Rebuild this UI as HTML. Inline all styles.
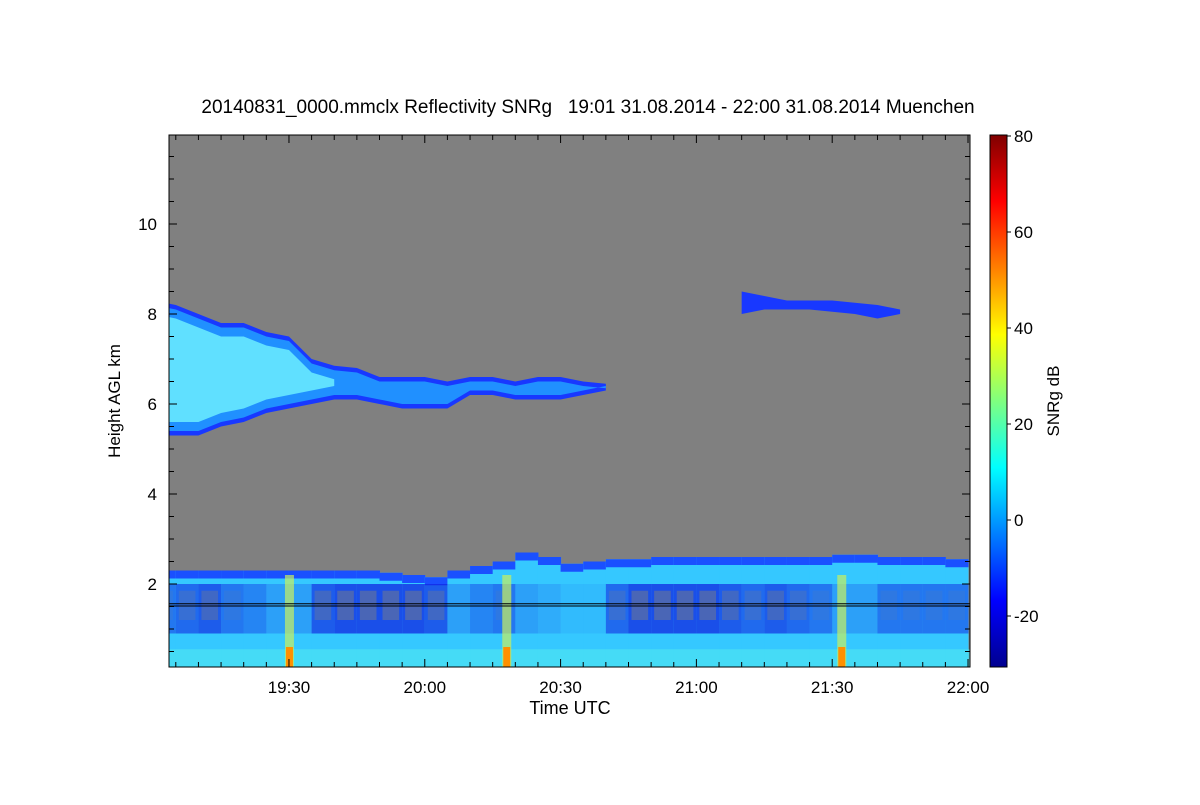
<!DOCTYPE html>
<html><head><meta charset="utf-8"><style>
body{margin:0;background:#fff;}
svg text{font-family:"Liberation Sans",sans-serif;fill:#000;}
</style></head><body>
<svg id="c" width="1200" height="800" xmlns="http://www.w3.org/2000/svg">
<defs>
<linearGradient id="jet" x1="0" y1="1" x2="0" y2="0">
<stop offset="0" stop-color="#00008f"/><stop offset="0.125" stop-color="#0000ff"/>
<stop offset="0.375" stop-color="#00ffff"/><stop offset="0.625" stop-color="#ffff00"/>
<stop offset="0.875" stop-color="#ff0000"/><stop offset="1" stop-color="#800000"/>
</linearGradient>
<clipPath id="pc"><rect x="169" y="135" width="801" height="532"/></clipPath>
</defs>
<text x="588" y="113" font-size="19" text-anchor="middle" style="white-space:pre">20140831_0000.mmclx Reflectivity SNRg   19:01 31.08.2014 - 22:00 31.08.2014 Muenchen</text>
<rect x="169" y="135" width="801" height="532" fill="#808080"/>
<g id="data" clip-path="url(#pc)"></g>
<g id="axes"></g>
<rect x="990" y="135" width="17" height="532" fill="url(#jet)" stroke="#000"/>
<g id="cb"></g>
<text x="570" y="714" font-size="18" text-anchor="middle">Time UTC</text>
<text transform="translate(120,401) rotate(-90)" font-size="17" text-anchor="middle">Height AGL km</text>
<text transform="translate(1059,401) rotate(-90)" font-size="17" text-anchor="middle">SNRg dB</text>
</svg>
<script>
const times=[0,5,10,15,20,25,30,35,40,45,50,55,60,65,70,75,80,85,90,95,100,105,110,115,120,125,130,135,140,145,150,155,160,165,170,175,180];
const lowTop=[2.3,2.3,2.3,2.3,2.3,2.3,2.3,2.3,2.3,2.3,2.25,2.2,2.15,2.3,2.4,2.5,2.7,2.6,2.45,2.5,2.55,2.55,2.6,2.6,2.6,2.6,2.6,2.6,2.6,2.6,2.65,2.65,2.6,2.6,2.6,2.55,2.5];
const patch=[0.6,0.7,0.8,0.6,0.5,0.3,0.3,0.8,0.9,0.9,0.9,0.9,0.8,0.3,0.5,0.6,0.3,0.2,0.1,0.1,0.7,0.9,0.9,0.9,0.9,0.8,0.7,0.8,0.7,0.6,0.3,0.3,0.6,0.6,0.6,0.6,0.6];
const upBase=[5.3,5.3,5.3,5.5,5.6,5.8,5.9,6.0,6.1,6.1,6.0,5.9,5.9,5.9,6.2,6.2,6.1,6.1,6.1,6.2,6.3];
const upTop=[8.3,8.2,8.0,7.8,7.8,7.6,7.5,7.0,6.85,6.8,6.6,6.6,6.6,6.5,6.6,6.6,6.5,6.6,6.6,6.5,6.45];
const up2Times=[130,135,140,145,150,155,160,165];
const up2Base=[8.0,8.1,8.1,8.1,8.05,8.0,7.9,8.0];
const up2Top=[8.5,8.4,8.3,8.3,8.3,8.25,8.2,8.1];
const streaks=[30,78,152];
const yTicks=[2,4,6,8,10];
const xTickMin=[30,60,90,120,150,180];
const xTickLab=["19:30","20:00","20:30","21:00","21:30","22:00"];
const cbTicks=[-20,0,20,40,60,80];
const NS="http://www.w3.org/2000/svg";
const X=m=>169+(m-3.5)*4.527;
const Y=h=>674-h*45;
const CB=v=>520-v*4.8;
function el(t,a,p){const e=document.createElementNS(NS,t);for(const k in a)e.setAttribute(k,a[k]);p.appendChild(e);return e;}
const D=document.getElementById('data'),A=document.getElementById('axes'),C=document.getElementById('cb');
for(let i=0;i<times.length-1;i++){
  const x0=X(times[i]),x1=X(times[i+1]);
  let r=el('rect',{x:x0,y:Y(lowTop[i]),width:x1-x0+0.5,height:Y(0.15)-Y(lowTop[i]),fill:'#35c8ff'},D);
  
  r=el('rect',{x:x0,y:Y(lowTop[i]),width:x1-x0+0.5,height:8,fill:'#1a50ff'},D);
  
  r=el('rect',{x:x0,y:Y(2.0),width:x1-x0+0.5,height:Y(0.9)-Y(2.0),fill:'#1020e0','fill-opacity':patch[i]*0.8},D);
  
  r=el('rect',{x:x0+3,y:Y(1.85),width:x1-x0-6,height:Y(1.2)-Y(1.85),fill:'#808080','fill-opacity':Math.max(0,patch[i]-0.5)*1.2},D);
  
}
let r=el('rect',{x:169,y:Y(0.55),width:801,height:Y(0.15)-Y(0.55),fill:'#50e8f0','fill-opacity':0.6},D);

streaks.forEach(s=>{
  const g=el('rect',{x:X(s)-4,y:Y(2.2),width:9,height:Y(0.15)-Y(2.2),fill:'#c8f060','fill-opacity':0.7},D);
  
  const o=el('rect',{x:X(s)-3,y:Y(0.6),width:7,height:Y(0.15)-Y(0.6),fill:'#ff9000'},D);
  
});
function poly(ts,b,t,fill,name,shrink){
  let pts=[];for(let i=0;i<b.length;i++)pts.push(X(ts[i])+','+Y(t[i]-shrink));
  for(let i=b.length-1;i>=0;i--)pts.push(X(ts[i])+','+Y(b[i]+shrink));
  const p=el('polygon',{points:pts.join(' '),fill:fill},D);
  
}
poly(times.slice(0,upBase.length),upBase,upTop,'#1838ff','upper-cloud-layer',0);
poly(times.slice(0,upBase.length),upBase,upTop,'#2090ff','upper-cloud-mid',0.1);
poly(times.slice(0,9),upBase.slice(0,9),upTop.slice(0,9),'#60e0ff','upper-cloud-core',0.3);
poly(up2Times,up2Base,up2Top,'#1838ff','high-cloud-layer',0);
[1.5,1.55].forEach(h=>{const l=el('line',{x1:169,x2:970,y1:Y(h)-0.5,y2:Y(h)-0.5,stroke:'#000'},D);
});
el('rect',{x:169,y:135,width:801,height:532,fill:'none',stroke:'#000'},A);
for(let h=0.5;h<12;h+=0.5){const yy=Y(h);if(yy<135||yy>667)continue;const len=(h%2===0)?8:5;
 el('line',{x1:169,x2:169+len,y1:yy,y2:yy,stroke:'#000'},A);el('line',{x1:970,x2:970-len,y1:yy,y2:yy,stroke:'#000'},A);}
yTicks.forEach(v=>{const t=el('text',{x:157,y:Y(v)+6,'font-size':17,'text-anchor':'end'},A);t.textContent=v;
 });
for(let m=5;m<=180;m+=5){const xx=X(m);if(xx<169||xx>970)continue;const len=(m%30===0)?8:5;
 el('line',{x1:xx,x2:xx,y1:667,y2:667-len,stroke:'#000'},A);el('line',{x1:xx,x2:xx,y1:135,y2:135+len,stroke:'#000'},A);}
xTickMin.forEach((m,i)=>{const t=el('text',{x:X(m),y:693,'font-size':17,'text-anchor':'middle'},A);t.textContent=xTickLab[i];
 });
cbTicks.forEach(v=>{const yy=CB(v);el('line',{x1:1007,x2:1011,y1:yy,y2:yy,stroke:'#000'},C);
 const t=el('text',{x:1014,y:yy+6,'font-size':17},C);t.textContent=v;
 });
</script>
</body></html>
